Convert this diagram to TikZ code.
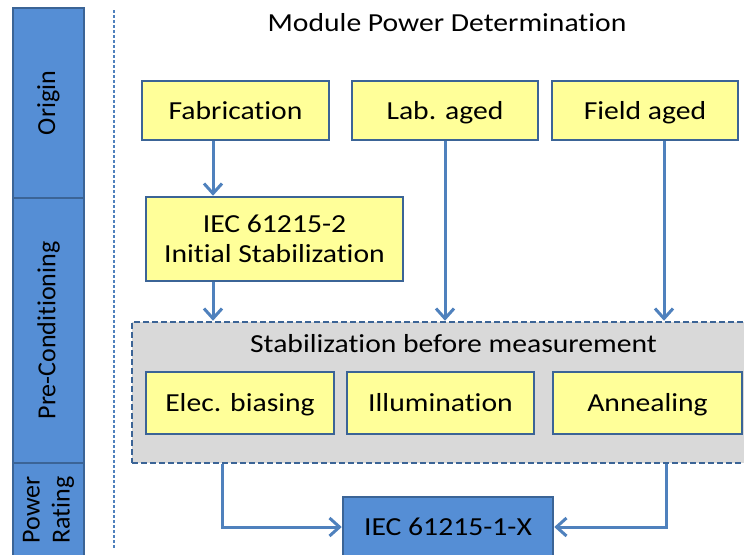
\documentclass[tikz,border=0pt]{standalone}
\usepackage{fontspec}
\setmainfont{Carlito}[FakeStretch=1.14,Ligatures={NoCommon}]
\newfontfamily\sidefont{Carlito}[Ligatures={NoCommon}]
\usetikzlibrary{arrows.meta}
\definecolor{barblue}{HTML}{558ED5}
\definecolor{edgeblue}{HTML}{3B6496}
\definecolor{linkblue}{HTML}{4F81BD}
\definecolor{boxyellow}{HTML}{FFFF99}
\definecolor{stabgray}{HTML}{D9D9D9}
\begin{document}
\begin{tikzpicture}[x=1pt,y=-1pt,
	every node/.style={font=\fontsize{26}{30}\selectfont,inner sep=0pt},
	oneline/.style={text height=20pt,text depth=3pt},
	sidebox/.style={draw=edgeblue,line width=2pt,fill=barblue,rotate=90,minimum height=71pt,font=\sidefont\fontsize{26}{30}\selectfont,align=center},
	yellowbox/.style={draw=edgeblue,line width=2.5pt,fill=boxyellow,align=center},
	stabbox/.style={draw=edgeblue,line width=2.5pt,dash pattern=on 6pt off 3pt,fill=stabgray},
	conn/.style={draw=linkblue,line width=3pt,-{Straight Barb[length=10pt,width=18pt]}}]
		\useasboundingbox (0,0) rectangle (744,554);
		\clip (0,0) rectangle (744,554);
		\fill[white] (0,0) rectangle (744,554);
		% phases on the left
		\node[sidebox,minimum width=190pt] (origin) at (48.5,103) {Origin};
		\node[sidebox,minimum width=265pt] (precond) at (48.5,330.5) {Pre-Conditioning};
		\node[sidebox,minimum width=94pt] (rating) at (48.5,510) {Power\\Rating};
		\draw[linkblue,line width=1.6pt,dash pattern=on 3pt off 2pt] (114,10)--(114,548);
		\node[oneline] (title) at (447,23) {Module Power Determination};
		% origin of the modules
		\node[yellowbox,oneline,minimum width=187pt,minimum height=59pt] (fab) at (235.5,110.5) {Fabrication};
		\node[yellowbox,oneline,minimum width=186pt,minimum height=59pt] (lab) at (445,110.5) {Lab. aged};
		\node[yellowbox,oneline,minimum width=186pt,minimum height=59pt] (field) at (645,110.5) {Field aged};
		\node[yellowbox,minimum width=257pt,minimum height=84pt] (iec2) at (274.5,239) {IEC 61215-2\\Initial Stabilization};
		% stabilization
		\node[stabbox,minimum width=640pt,minimum height=141pt] (stab) at (452,392.5) {};
		\node[oneline] (stabtitle) at (453.5,343.5) {Stabilization before measurement};
		\node[yellowbox,oneline,minimum width=188pt,minimum height=62pt] (bias) at (240,403) {Elec. biasing};
		\node[yellowbox,oneline,minimum width=187pt,minimum height=62pt] (illum) at (440.5,403) {Illumination};
		\node[yellowbox,oneline,minimum width=189pt,minimum height=62pt] (anneal) at (647.5,403) {Annealing};
		% rating
		\node[oneline,draw=edgeblue,line width=2.5pt,fill=barblue,minimum width=210pt,minimum height=60pt] (iec1) at (448,527) {IEC 61215-1-X};
		\coordinate (a1) at (213,0);
		\coordinate (a3) at (664,0);
		\coordinate (b1) at (222,0);
		\coordinate (b2) at (666,0);
		\draw[conn] (fab.south -| a1) -- (iec2.north -| a1);
		\draw[conn] (iec2.south -| a1) -- (stab.north -| a1);
		\draw[conn] (lab.south) -- (stab.north -| lab);
		\draw[conn] (field.south -| a3) -- (stab.north -| a3);
		\draw[conn] (stab.south -| b1) |- (iec1.west);
		\draw[conn] (stab.south -| b2) |- (iec1.east);
\end{tikzpicture}
\end{document}
